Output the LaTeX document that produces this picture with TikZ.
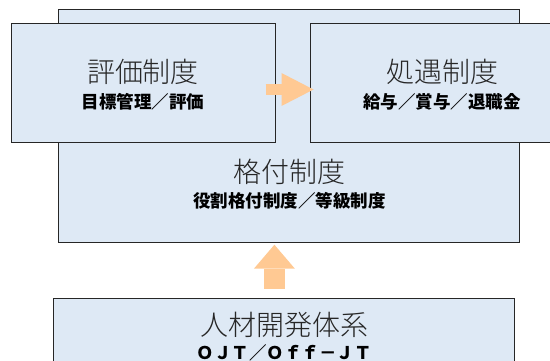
\documentclass[tikz,border=0pt]{standalone}
\usepackage{fontspec}
\newfontfamily\jpfont{Noto Sans CJK JP}
\IfFontExistsTF{Noto Sans CJK JP Light}
  {\newfontfamily\jplight{Noto Sans CJK JP Light}}
  {\newfontfamily\jplight{Noto Sans CJK JP}}
\usetikzlibrary{positioning,arrows.meta}
\definecolor{boxblue}{HTML}{DEE9F5}
\definecolor{peach}{HTML}{FFC993}

\begin{document}
\begin{tikzpicture}[
  x=1pt, y=-1pt,
  panel/.style={draw=black!85,line width=1pt,fill=boxblue,minimum width=264pt,
    minimum height=119pt,inner sep=0pt},
  widepanel/.style={panel,minimum width=461pt,minimum height=233pt},
  headtext/.style={font=\jplight\fontsize{28}{30}\selectfont,text=black!85,inner sep=0pt},
  subtext/.style={font=\jpfont\bfseries\fontsize{17.5}{19}\selectfont,inner sep=0pt},
  flow/.style={draw=peach,line width=11pt,
    -{Triangle[length=32pt,width=33pt,line width=0pt]}},
  liftflow/.style={draw=peach,line width=21pt,
    -{Triangle[length=24pt,width=41pt,line width=0pt]}}
]
  \useasboundingbox (0,0) rectangle (550,361);

  % boxes
  \node[widepanel] (grade) at (289.3,125.7) {};
  \node[panel] (eval) at (143,83.5) {};
  \node[panel,right=34pt of eval] (treat) {};
  \node[widepanel,minimum height=119pt] (dev) at (284.4,357.5) {};

  % texts
  \node[headtext] (evalhead) at ([yshift=11.5pt]eval.center) {評価制度};
  \node[subtext] (evalsub) at ([yshift=-18.5pt]eval.center) {目標管理／評価};
  \node[headtext] (treathead) at ([yshift=11.5pt]treat.center) {処遇制度};
  \node[subtext] (treatsub) at ([yshift=-18.5pt]treat.center) {給与／賞与／退職金};
  \node[headtext] (gradehead) at ([yshift=70.4pt]grade.south) {格付制度};
  \node[subtext] (gradesub) at ([yshift=41.4pt]grade.south) {役割格付制度／等級制度};
  \node[headtext] (devhead) at ([yshift=-27pt]dev.north) {人材開発体系};
  \node[subtext] (devsub) at ([yshift=-55.6pt]dev.north) {ＯＪＴ／Ｏｆｆ－ＪＴ};

  % arrows
  \draw[flow] ([shift={(-10pt,-6pt)}]eval.east) -- ([shift={(4pt,-6pt)}]treat.west);
  \coordinate (liftfoot) at ([shift={(-10pt,9pt)}]dev.north);
  \draw[liftflow] (liftfoot) -- ([yshift=-2pt]liftfoot |- grade.south);
\end{tikzpicture}
\end{document}
